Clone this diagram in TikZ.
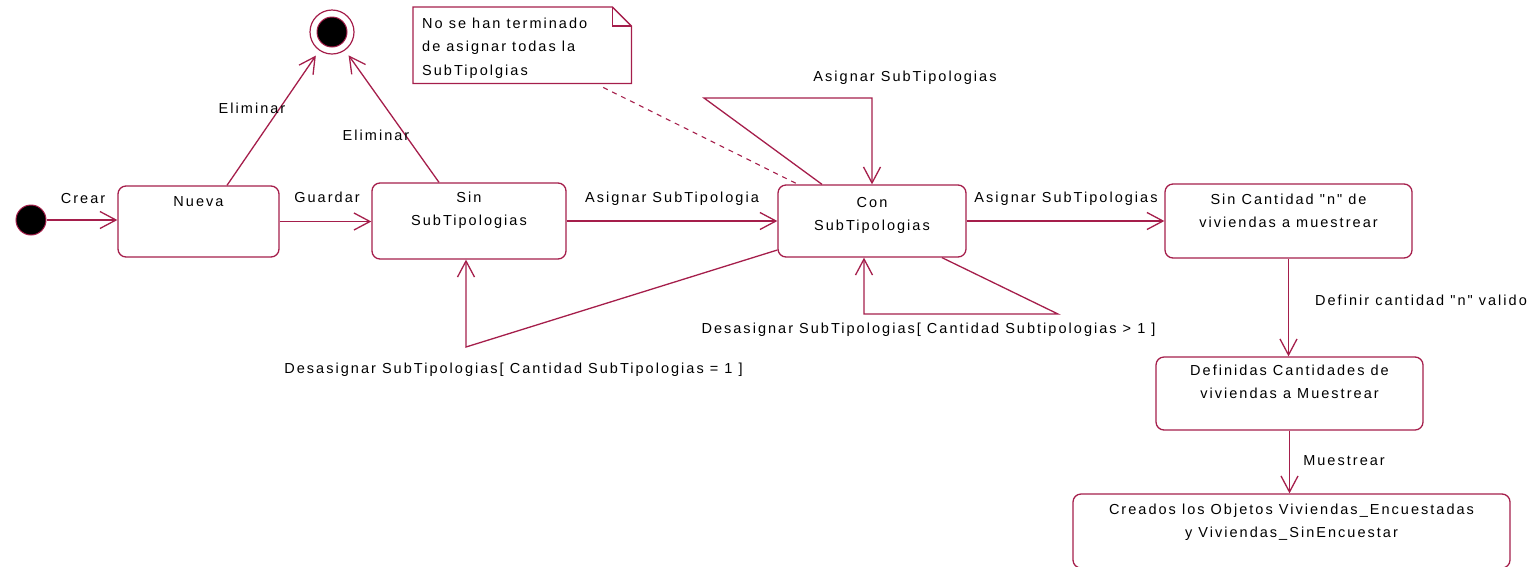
\documentclass[tikz,border=0pt]{standalone}
\usepackage{fontspec}
\usetikzlibrary{arrows.meta,calc}
\newfontfamily\umlff[LetterSpace=14]{Liberation Sans}
\definecolor{crim}{RGB}{165,30,75}
\newcommand\umlfont{\umlff\fontsize{14.5}{23.5}\selectfont}
\newcommand\stbox[4]{\parbox[c][#2][t]{#1}{\centering\rule{0pt}{#3}#4\par}}
\begin{document}
\begin{tikzpicture}[x=1pt,y=-1pt,
  every node/.style={font=\umlfont},
  state/.style={draw=crim, line width=1.3pt, rounded corners=8pt, inner sep=0pt},
  lbl/.style={anchor=base, inner sep=0pt},
  tr/.style={draw=crim, line width=1.3pt, -{Straight Barb[length=16pt,width=17pt]}},
  ln/.style={draw=crim, line width=1.3pt}]
\useasboundingbox (0,0) rectangle (1539,566);
% initial and final
\node[circle, fill=black, draw=crim, line width=1pt, minimum size=30pt, inner sep=0pt] (init) at (31,220) {};
\node[circle, draw=crim, line width=1.2pt, minimum size=44pt, inner sep=0pt,
  path picture={\filldraw[fill=black, draw=crim, line width=1pt] (path picture bounding box.center) circle (15pt);}] (final) at (332,32) {};
% states
\node[state] (nueva) at (198.5,221.5) {\stbox{161pt}{71pt}{20pt}{Nueva}};
\node[state] (sin) at (469,221) {\stbox{194pt}{76pt}{19pt}{Sin\\SubTipologias}};
\node[state] (con) at (872,221) {\stbox{188pt}{72pt}{22pt}{Con\\SubTipologias}};
\node[state] (sincant) at (1288.5,221) {\stbox{247pt}{74pt}{20pt}{Sin Cantidad "n" de\\viviendas a muestrear}};
\node[state] (defin) at (1289.5,393.5) {\stbox{267pt}{73pt}{18pt}{Definidas Cantidades de\\viviendas a Muestrear}};
\node[state] (creados) at (1291.5,531) {\stbox{437pt}{74pt}{20pt}{Creados los Objetos Viviendas\_Encuestadas\\y Viviendas\_SinEncuestar}};
% note
\node[inner xsep=9pt, inner ysep=0pt, anchor=north west] (note) at (413,7)
  {\parbox[c][76pt][t]{200pt}{\raggedright\rule{0pt}{21pt}No se han terminado\\de asignar todas la\\SubTipolgias}};
\draw[ln] (note.north west) -- ([xshift=-19pt]note.north east) -- ([yshift=-19pt]note.north east) -- (note.south east) -- (note.south west) -- cycle;
\draw[ln] ([xshift=-19pt]note.north east) |- ([yshift=-19pt]note.north east);
\draw[crim, line width=1.1pt, dash pattern=on 5pt off 5pt] ([xshift=81pt,yshift=-4pt]note.south) -- ([xshift=-74pt]con.north);
% coordinates for bends
\coordinate (c1) at (466,347);
\coordinate (t1) at (704,98);
\coordinate (b1) at (1058,314);
\coordinate (b2) at (864,314);
% transitions
\draw[tr] (init.east) -- (init.east -| nueva.west);
\draw[tr, shorten >=6pt] ([xshift=28.5pt]nueva.north) -- (final);
\draw[tr] (nueva.east) -- (nueva.east -| sin.west);
\draw[tr, shorten >=6pt] ([xshift=-30pt]sin.north) -- (final);
\draw[tr] (sin.east) -- (con.west);
\draw[tr] ([yshift=-29pt]con.west) -- (c1) -- (c1 |- sin.south);
\draw[tr] ([xshift=-50pt]con.north) -- (t1) -- (t1 -| con.north) -- (con.north);
\draw[tr] ([xshift=70pt]con.south) -- (b1) -- (b2) -- (b2 |- con.south);
\draw[tr] (con.east) -- (sincant.west);
\draw[tr] (sincant.south) -- (sincant.south |- defin.north);
\draw[tr] (defin.south) -- (defin.south |- creados.north);
% labels
\node[lbl] (lcrear) at (83,203) {Crear};
\node[lbl] (lelim1) at (252,113) {Eliminar};
\node[lbl] (lguard) at (327,202) {Guardar};
\node[lbl] (lelim2) at (376,140) {Eliminar};
\node[lbl] (lasig1) at (672,202) {Asignar SubTipologia};
\node[lbl] (lasig2) at (905,81) {Asignar SubTipologias};
\node[lbl] (lasig3) at (1066,202) {Asignar SubTipologias};
\node[lbl] (ldes1) at (928.5,333) {Desasignar SubTipologias[ Cantidad Subtipologias > 1 ]};
\node[lbl] (ldes2) at (513.5,373) {Desasignar SubTipologias[ Cantidad SubTipologias = 1 ]};
\node[lbl] (ldef) at (1421,305) {Definir cantidad "n" valido};
\node[lbl] (lmue) at (1344,465) {Muestrear};
\end{tikzpicture}
\end{document}
